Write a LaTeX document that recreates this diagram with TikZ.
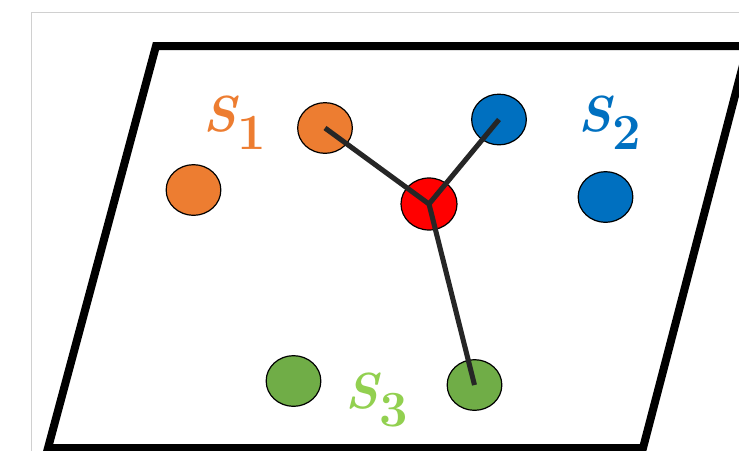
\documentclass[tikz,border=0pt]{standalone}
\definecolor{PointOrange}{HTML}{ED7D31}
\definecolor{PointBlue}{HTML}{0070C0}
\definecolor{PointGreen}{HTML}{70AD47}
\definecolor{LabelGreen}{HTML}{92D050}
\definecolor{LinkGray}{HTML}{262626}
\definecolor{FrameGray}{HTML}{D0D0D0}
\usetikzlibrary{shapes.geometric}

\begin{document}
\begin{tikzpicture}[
        x=0.75pt, y=-0.75pt,
        point/.style={ellipse, draw=black, line width=0.9pt, minimum width=41pt, minimum height=38pt, inner sep=0pt},
        link/.style={line width=3.8pt, color=LinkGray},
        setlabel/.style={anchor=base west, inner sep=0pt, font=\fontsize{38}{38}\selectfont\bfseries}
      ]
        \useasboundingbox (0,0) rectangle (739,450);
        \clip (0,0) rectangle (739,450);
        \draw [FrameGray, line width=0.75pt] (31.5,460) -- (31.5,12.5) -- (760,12.5);
        \draw [line width=6pt, line join=miter] (156,46) -- (748,46) -- (643,448) -- (48,448) -- cycle;

        \node (o1) [point, fill=PointOrange] at (325,128) {};
        \node (o2) [point, fill=PointOrange] at (193.5,190) {};
        \node (b1) [point, fill=PointBlue] at (499,119.5) {};
        \node (b2) [point, fill=PointBlue] at (605.5,197) {};
        \node (ctr) [point, fill=red, minimum width=42pt, minimum height=39pt] at (429,204) {};
        \node (g1) [point, fill=PointGreen] at (293.5,381) {};
        \node (g2) [point, fill=PointGreen] at (474.5,385) {};

        \node (s1) [setlabel, text=PointOrange] at (203,131) {\itshape S\kern1pt\raisebox{-13.5pt}{\upshape 1}};
        \node (s2) [setlabel, text=PointBlue] at (578,131) {\itshape S\kern1pt\raisebox{-13.5pt}{\upshape 2}};
        \node (s3) [setlabel, text=LabelGreen] at (345,408) {\itshape S\kern1pt\raisebox{-13.5pt}{\upshape 3}};

        \draw [link] (o1.center) -- (ctr.center) -- (b1.center);
        \draw [link] (ctr.center) -- (g2.center);
      \end{tikzpicture}
\end{document}
